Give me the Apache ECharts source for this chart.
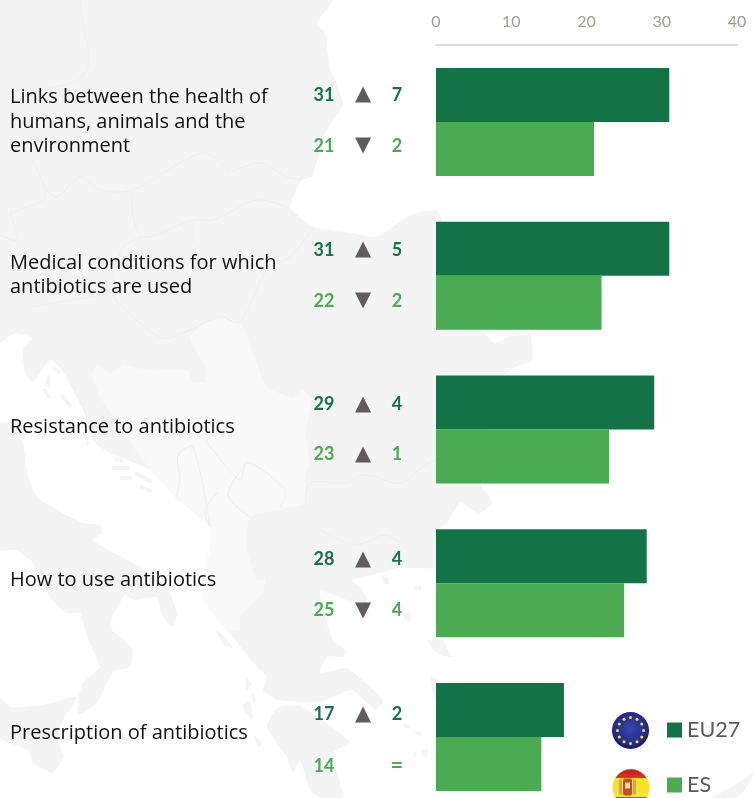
<!DOCTYPE html>
<html>
<head>
<meta charset="utf-8">
<style>html,body{margin:0;padding:0;background:#fff}#c{width:756px;height:798px}</style>
<script src="https://cdn.jsdelivr.net/npm/echarts@6/dist/echarts.min.js"></script>
</head>
<body>
<div id="c"></div>
<script>
const categories = [
  "Links between the health of\nhumans, animals and the\nenvironment",
  "Medical conditions for which\nantibiotics are used",
  "Resistance to antibiotics",
  "How to use antibiotics",
  "Prescription of antibiotics"
];
const eu27Values = [31, 31, 29, 28, 17];
const esValues = [21, 22, 23, 25, 14];
const eu27Direction = ["up", "up", "up", "up", "up"];
const esDirection = ["down", "down", "up", "down", "none"];
const eu27Change = ["7", "5", "4", "4", "2"];
const esChange = ["2", "2", "1", "4", "="];
const axisTicks = { min: 0, max: 40, interval: 10 };

const FONT = "Lato";
const TEXTFONT = "Open Sans";
const DARK = "#137347", LIGHT = "#4aab52", ARROW = "#615b5e";
const eu27Nudge = [0, 1, 2, 3, 4], esNudge = [-3, -2, -2, 0, 2];
const categoryLift = [0, 1, 2, 3, 4];
const glyph = { up: "▲", down: "▼", none: "" };

// ---- decorative background map ----
const land = "#f4f4f4", lighter = "#f9f9f9", border = "#eeeeee";
const mainland = [[0,0],[332,0],[317,23],[325,33],[330,67],[343,103],[330,125],[325,133],[312,177],[302,180],[290,207],[313,227],[345,232],[377,237],[407,217],[420,212],[438,211],[482,330],[495,343],[510,336],[530,335],[532,360],[515,367],[505,375],[480,484],[490,497],[492,503],[480,513],[472,510],[460,502],[448,522],[437,530],[436,567],[400,568],[360,578],[352,580],[363,590],[368,606],[347,600],[320,590],[322,605],[333,640],[345,650],[343,657],[327,657],[320,673],[347,668],[383,700],[375,710],[352,690],[320,702],[277,700],[263,690],[267,677],[257,667],[227,630],[203,600],[205,563],[210,553],[210,527],[178,500],[150,470],[110,453],[100,447],[93,440],[83,410],[62,370],[50,360],[33,382],[25,372],[23,350],[32,338],[15,333],[0,342]];
const balkans = [[92,375],[97,365],[110,373],[123,365],[147,370],[187,370],[193,382],[205,382],[205,367],[190,337],[213,318],[240,322],[253,353],[267,387],[293,398],[302,390],[312,400],[305,433],[310,463],[305,473],[305,503],[287,508],[250,517],[247,550],[257,580],[265,580],[263,593],[240,617],[240,630],[227,630],[203,600],[205,563],[210,553],[210,527],[178,500],[150,470],[138,453],[100,397]];
const italy = [[0,423],[10,423],[23,443],[28,477],[37,497],[57,510],[83,523],[100,525],[102,533],[92,540],[140,567],[167,587],[177,613],[173,627],[163,617],[157,597],[135,600],[125,595],[112,618],[112,630],[132,648],[130,667],[113,672],[97,703],[78,715],[78,700],[83,683],[100,667],[93,650],[85,630],[80,613],[67,613],[52,600],[33,563],[17,550],[0,550]];
const sicily = [[0,697],[10,707],[43,705],[77,697],[63,720],[57,737],[63,757],[53,773],[33,763],[28,750],[0,738]];
const peloponnese = [[277,708],[300,706],[340,733],[350,743],[333,753],[343,798],[320,798],[310,790],[300,760],[293,773],[287,757],[267,727]];
const crete = [[712,798],[735,785],[754,772],[745,790],[735,798]];
const isles = [
  [[427,640],[443,640],[448,650],[452,657],[440,655],[432,648]],
  [[430,676],[438,680],[440,695],[434,700],[432,690]],
  [[382,576],[388,578],[389,584],[384,584]],[[414,586],[421,586],[421,590],[415,590]],
  [[403,615],[411,612],[410,622],[405,620]],[[403,724],[409,724],[411,728],[405,728]],
  [[415,731],[422,733],[420,736],[416,735]],[[413,752],[417,751],[416,757],[414,757]],
  [[422,750],[428,749],[427,757],[423,756]],[[247,678],[252,684],[246,690]],
  [[252,692],[256,700],[253,704]],[[243,705],[250,702],[253,720],[245,712]],[[254,735],[262,743],[258,746]],
  [[215,630],[222,634],[233,648],[224,645]],[[325,626],[330,630],[326,634]],
  [[433,545],[440,548],[436,552]]
];
const streaks = [
  [[53,367],[60,373]],[[49,375],[47,387]],[[44,389],[50,398]],[[62,395],[71,407]],[[115,459],[123,461]],
  [[112,468],[130,468]],[[120,478],[132,478]],[[140,487],[152,491]],[[135,473],[152,482]],[[86,442],[89,444]]
];
const borders = [
  [[80,0],[82,20],[89,62],[78,80],[43,90],[20,100]],
  [[33,160],[47,190],[57,197],[80,177],[100,190],[133,190],[180,163],[207,153],[230,170],[260,163],[287,177],[302,180]],
  [[133,190],[132,210],[143,237],[193,220],[213,220],[257,200],[290,208]],
  [[193,220],[193,243]],
  [[143,237],[123,247],[113,293],[140,323],[163,338],[190,330],[220,317],[240,322],[267,270],[290,257],[313,228]],
  [[30,307],[113,293]],[[10,213],[43,200],[45,190]],[[10,213],[17,240],[0,235]],
  [[210,527],[193,447],[178,455],[180,480],[177,495],[178,500]],
  [[205,440],[240,480],[247,462],[285,490],[280,508]],
  [[247,462],[228,495],[250,517]],[[218,492],[205,510],[210,527]],
  [[305,503],[310,483],[345,483],[365,475],[400,483],[425,465],[436,460]],
  [[320,530],[355,545],[385,535],[400,542]]
];
const poly = (pts, fill) => ({ type: "polygon", silent: true, z: -10, shape: { points: pts, smooth: 0.15 }, style: { fill } });
const line = (pts, stroke, w) => ({ type: "polyline", silent: true, z: -9, shape: { points: pts, smooth: 0.3 }, style: { stroke, lineWidth: w, fill: null } });

// ---- decorative flags beside the legend ----
function euFlag(cx, cy, r) {
  const out = [{ type: "circle", silent: true, z: 5, shape: { cx, cy, r },
    style: { fill: { type: "radial", x: 0.5, y: 0.45, r: 0.55, colorStops: [{offset:0,color:"#3a45a8"},{offset:0.8,color:"#202a8c"},{offset:1,color:"#0e1556"}] } } }];
  for (let i = 0; i < 12; i++) {
    const a = i * Math.PI / 6;
    out.push({ type: "circle", silent: true, z: 6, shape: { cx: cx + 13 * Math.cos(a), cy: cy + 13 * Math.sin(a), r: 1.5 }, style: { fill: "#f4e12c" } });
  }
  return out;
}
function esFlag(cx, cy, r) {
  return [
    { type: "circle", silent: true, z: 5, shape: { cx, cy, r },
      style: { stroke: "#d8d8d8", lineWidth: 0.5, fill: { type: "linear", x: 0, y: 0, x2: 0, y2: 1, colorStops: [
        {offset:0,color:"#b81c1c"},{offset:0.24,color:"#e0332a"},{offset:0.25,color:"#f6e01e"},{offset:0.75,color:"#f8e62a"},{offset:0.76,color:"#e0332a"},{offset:1,color:"#b81c1c"}] } } },
    { type: "rect", silent: true, z: 6, shape: { x: cx - 12, y: cy - 8, width: 3, height: 15 }, style: { fill: "#c9a0a0" } },
    { type: "rect", silent: true, z: 6, shape: { x: cx - 8, y: cy - 9, width: 9, height: 17, r: 2 }, style: { fill: "#c9462f" } },
    { type: "rect", silent: true, z: 6, shape: { x: cx - 6, y: cy - 5, width: 5, height: 6 }, style: { fill: "#e9d9c0" } },
    { type: "rect", silent: true, z: 6, shape: { x: cx + 2, y: cy - 8, width: 3, height: 15 }, style: { fill: "#c9a0a0" } }
  ];
}

const chart = echarts.init(document.getElementById("c"), null, { renderer: "canvas" });

function rowLabel(values, dirs, changes, nudges, i, color) {
  const changeStyle = changes[i] === "=" ? "e" : "d";
  return {
    value: values[i],
    label: {
      show: true, position: "insideLeft", distance: 0, offset: [-131, nudges[i]],
      formatter: () => `{v|${values[i]}}{a|${glyph[dirs[i]]}}{${changeStyle}|${changes[i]}}`,
      rich: {
        v: { width: 38, align: "center", fontFamily: FONT, fontWeight: "bold", fontSize: 18, color },
        a: { width: 40, align: "center", fontFamily: "DejaVu Sans", fontSize: 21, color: ARROW },
        d: { width: 28, align: "center", fontFamily: FONT, fontWeight: "bold", fontSize: 18, color },
        e: { width: 28, align: "center", fontFamily: FONT, fontWeight: "bold", fontSize: 22, color }
      }
    }
  };
}
const idx = categories.map((_, i) => i);
const legendBase = { orient: "horizontal", left: 667, padding: 0, itemWidth: 15, itemHeight: 15, icon: "rect", selectedMode: false,
  textStyle: { color: "#595959", fontSize: 21.5, fontFamily: FONT } };

const catText = { color: "#111", fontSize: 20, lineHeight: 24.5, fontFamily: TEXTFONT };
const catRich = { n: { ...catText } };
categoryLift.forEach((lift, i) => { catRich["p" + i] = { ...catText, padding: [0, 0, lift * 2, 0] }; });

chart.setOption({
  animation: false,
  backgroundColor: "#fff",
  textStyle: { fontFamily: FONT },
  grid: { left: 436, top: 45, width: 301, height: 769, containLabel: false, outerBoundsMode: "none" },
  xAxis: {
    type: "value", position: "top", min: axisTicks.min, max: axisTicks.max, interval: axisTicks.interval,
    axisLine: { show: true, lineStyle: { color: "#dcdcdc", width: 2 } },
    axisTick: { show: false }, splitLine: { show: false },
    axisLabel: { color: "#a89b90", fontSize: 16, margin: 15, fontFamily: FONT, hideOverlap: false, showMinLabel: true, showMaxLabel: true }
  },
  yAxis: {
    type: "category", inverse: true, data: categories,
    axisLine: { show: false }, axisTick: { show: false },
    axisLabel: {
      align: "left", margin: 426, interval: 0, ...catText, rich: catRich,
      formatter: (value, i) => {
        const lines = value.split("\n");
        return lines.map((t, k) => k === lines.length - 1 ? `{p${i}|${t}}` : `{n|${t}}`).join("\n");
      }
    }
  },
  legend: [
    { ...legendBase, top: 719, data: ["EU27"] },
    { ...legendBase, top: 774, data: ["ES"] }
  ],
  series: [
    { name: "EU27", type: "bar", barWidth: 54, barGap: 0, itemStyle: { color: DARK },
      data: idx.map(i => rowLabel(eu27Values, eu27Direction, eu27Change, eu27Nudge, i, DARK)) },
    { name: "ES", type: "bar", barWidth: 54, barGap: 0, itemStyle: { color: LIGHT },
      data: idx.map(i => rowLabel(esValues, esDirection, esChange, esNudge, i, LIGHT)) }
  ],
  graphic: { elements: [
    poly(mainland, land), poly(italy, land), poly(sicily, land), poly(peloponnese, land), poly(crete, land),
    ...isles.map(p => poly(p, land)),
    poly(balkans, lighter),
    ...streaks.map(p => line(p, land, 4)),
    ...borders.map(p => line(p, border, 1)),
    ...euFlag(630.5, 730.5, 18.5),
    ...esFlag(631, 787.5, 18.5)
  ] }
});
</script>
</body>
</html>
